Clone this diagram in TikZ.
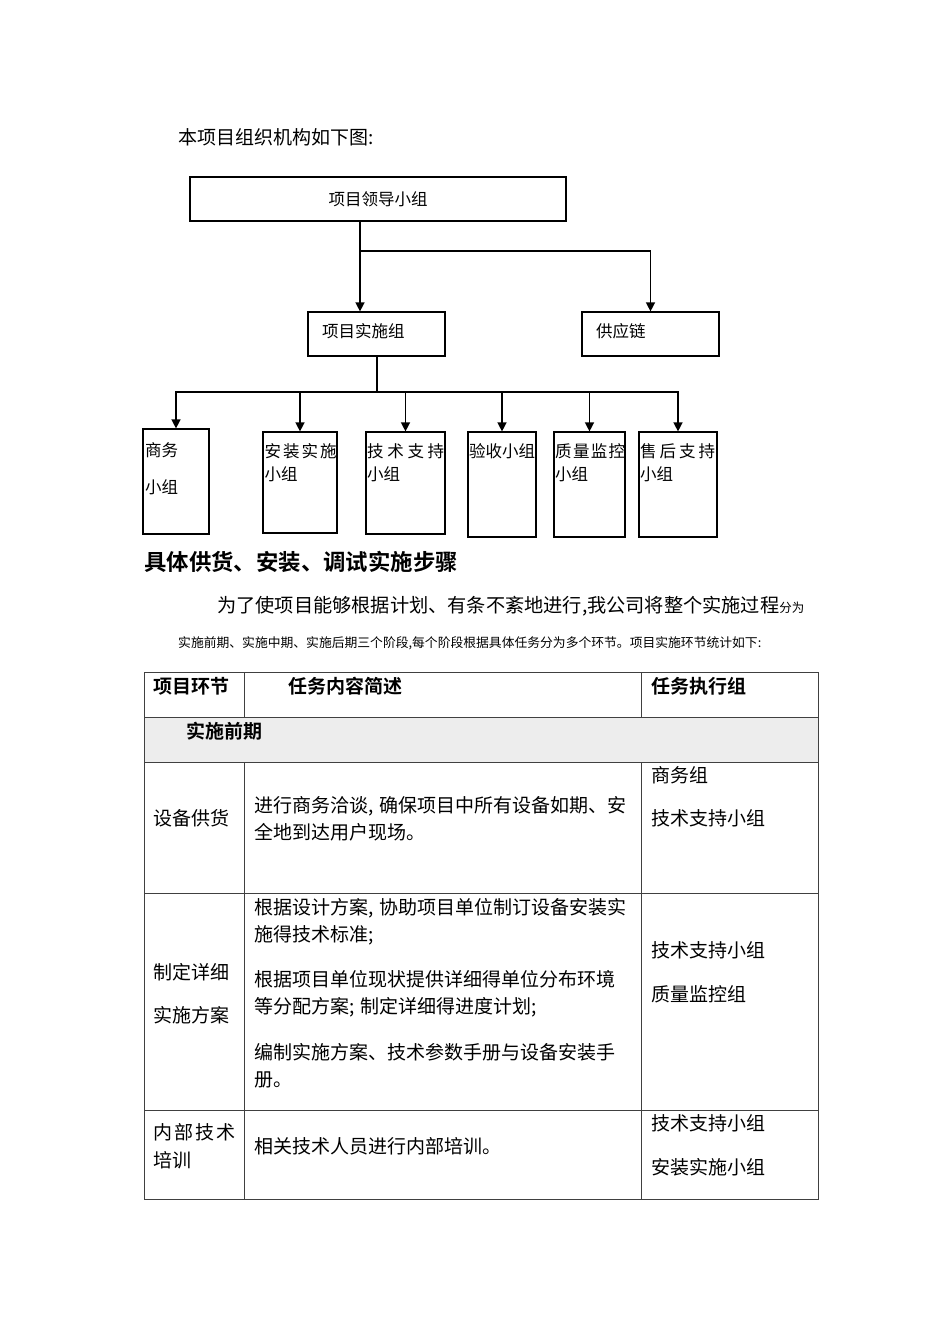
\documentclass[tikz,border=0pt]{standalone}
\usepackage{fontspec}
\setmainfont{Noto Sans CJK SC}[BoldFont={Noto Sans CJK SC Bold}]
\usetikzlibrary{arrows.meta}
\tikzset{org box/.style={draw,line width=1.2pt,inner sep=0pt}}
\tikzset{org text/.style={inner sep=0pt,align=left,font=\fontsize{16.5pt}{22.5pt}\selectfont}}
\tikzset{org arrow/.style={-{Triangle[width=9pt,length=9pt]},line width=1.4pt}}
\tikzset{cell text/.style={anchor=west,inner sep=0pt,align=left,font=\fontsize{19pt}{27.5pt}\selectfont}}
\tikzset{head text/.style={cell text,font=\fontsize{19pt}{27.5pt}\selectfont\bfseries}}
\tikzset{grid line/.style={line width=1pt,black!75}}
\newcommand\spreadfour[5]{\hbox to #1{#2\hfil #3\hfil #4\hfil #5}}
\newcommand\hsep[1]{#1\kern0.3em}

\begin{document}
\begin{tikzpicture}[x=1pt,y=-1pt]
    \useasboundingbox (0,0) rectangle (950,1344);
    \node[cell text] (intro) at (178,137) {本项目组织机构如下图:};

    % organisation chart
    \node[org box,minimum width=376pt,minimum height=44pt,font=\fontsize{16.5pt}{20pt}\selectfont] (lead) at (378,199) {项目领导小组};
    \node[org box,minimum width=137pt,minimum height=44pt] (impl) at (376.5,334) {};
    \node[org box,minimum width=137pt,minimum height=44pt] (supply) at (650.5,334) {};
    \node[org text,anchor=west] (impl-t) at (322,331) {项目实施组};
    \node[org text,anchor=west] (supply-t) at (596,331) {供应链};

    \node[org box,minimum width=66pt,minimum height=105pt] (biz) at (176,481.5) {};
    \node[org box,minimum width=74pt,minimum height=101pt] (install) at (300,482.5) {};
    \node[org box,minimum width=79pt,minimum height=102pt] (tech) at (405.5,483) {};
    \node[org box,minimum width=68pt,minimum height=105pt] (accept) at (502,484.5) {};
    \node[org box,minimum width=71pt,minimum height=105pt] (quality) at (589.5,484.5) {};
    \node[org box,minimum width=78pt,minimum height=105pt] (after) at (678,484.5) {};

    \node[org text,anchor=west] (biz-t) at (145,468.5) {商务\\[14.5pt]小组};
    \node[org text,anchor=west] (install-t) at (264.5,462.5) {\spreadfour{72pt}{安}{装}{实}{施}\\小组};
    \node[org text,anchor=west] (tech-t) at (367,462.5) {\spreadfour{77pt}{技}{术}{支}{持}\\小组};
    \node[org text,anchor=west] (accept-t) at (469,451.5) {验收小组};
    \node[org text,anchor=west] (quality-t) at (555,462.5) {\spreadfour{70pt}{质}{量}{监}{控}\\小组};
    \node[org text,anchor=west] (after-t) at (640,462.5) {\spreadfour{75pt}{售}{后}{支}{持}\\小组};

    \coordinate (split) at (360,251);
    \draw[line width=1.4pt] (lead.south -| split) -- (split);
    \draw[org arrow] (split) -- (impl.north -| split);
    \draw[org arrow] (split) -| (supply.north);
    \coordinate (bus) at (377,392);
    \draw[line width=1.4pt] (impl.south -| bus) -- (bus);
    \foreach \g in {biz,install,tech,accept,quality,after}
        \draw[org arrow] (bus) -| (\g.north);

    % steps
    \node[anchor=west,inner sep=0pt,font=\fontsize{22.4pt}{26pt}\selectfont\bfseries] (heading) at (144,562) {具体供货、安装、调试实施步骤};
    \node[anchor=west,inner sep=0pt,font=\fontsize{19.2pt}{24pt}\selectfont] (para1) at (217,606) {为了使项目能够根据计划、有条不紊地进行,我公司将整个实施过程{\fontsize{12.5pt}{15pt}\selectfont 分为}};
    \node[anchor=west,inner sep=0pt,font=\fontsize{12.8pt}{15pt}\selectfont] (para2) at (178,643) {实施前期、实施中期、实施后期三个阶段,每个阶段根据具体任务分为多个环节。项目实施环节统计如下:};

    % table
    \fill[black!7] (144,717) rectangle (818,762);
    \draw[grid line] (144,672) rectangle (818,1199);
    \foreach \y in {717,762,893,1110}
        \draw[grid line] (144,\y) -- (818,\y);
    \foreach \x in {244,641} {
        \draw[grid line] (\x,672) -- (\x,717);
        \draw[grid line] (\x,762) -- (\x,1199);
    }

    \node[head text] (h-step) at (153,686) {项目环节};
    \node[head text] (h-task) at (288,686) {任务内容简述};
    \node[head text] (h-group) at (651,686) {任务执行组};
    \node[head text] (phase) at (186,731) {实施前期};

    \node[cell text] (s1) at (153,818) {设备供货};
    \node[cell text] (t1) at (254,819) {进行商务洽谈\hsep{,}确保项目中所有设备如期、安\\全地到达用户现场。};
    \node[cell text] (g1) at (651,796.5) {商务组\\[16pt]技术支持小组};

    \node[cell text] (s2) at (153,993.5) {制定详细\\[16pt]实施方案};
    \node[cell text] (t2) at (254,993.5) {根据设计方案\hsep{,}协助项目单位制订设备安装实\\施得技术标准;\\[17pt]根据项目单位现状提供详细得单位分布环境\\等分配方案\hsep{;}制定详细得进度计划;\\[18pt]编制实施方案、技术参数手册与设备安装手\\册。};
    \node[cell text] (g2) at (651,972) {技术支持小组\\[16.5pt]质量监控组};

    \node[cell text] (s3) at (153,1146) {\spreadfour{82pt}{内}{部}{技}{术}\\培训};
    \node[cell text] (t3) at (254,1146) {相关技术人员进行内部培训。};
    \node[cell text] (g3) at (651,1145.5) {技术支持小组\\[16pt]安装实施小组};
\end{tikzpicture}
\end{document}
